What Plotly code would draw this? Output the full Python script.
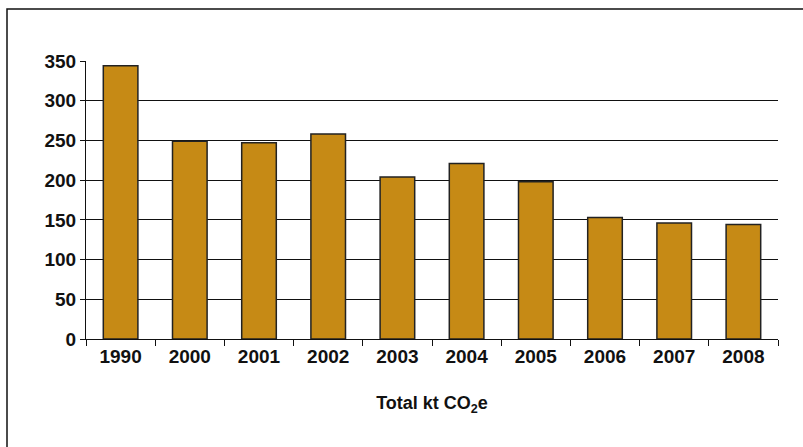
import plotly.graph_objects as go

years = ["1990", "2000", "2001", "2002", "2003", "2004", "2005", "2006", "2007", "2008"]
totals = [344, 249, 247, 258, 204, 221, 198, 153, 146, 144]
y_ticks = [0, 50, 100, 150, 200, 250, 300, 350]
x_title = "Total kt CO<sub>2</sub>e"

FONT = "Liberation Sans, Arial, sans-serif"
W, H = 803, 447
L, R, T, B = 86, 25, 61, 108

fig = go.Figure(go.Bar(
    x=years, y=totals,
    marker=dict(color="#C68A15", line=dict(color="#222222", width=1.5)),
    hoverinfo="x+y",
))

fig.update_layout(
    width=W, height=H,
    margin=dict(l=L, r=R, t=T, b=B, pad=0),
    paper_bgcolor="white", plot_bgcolor="white",
    bargap=0.5,
    showlegend=False,
    font=dict(family=FONT, size=19, color="#111111", weight="bold"),
    xaxis=dict(
        type="category",
        showline=True, linecolor="#111111", linewidth=1,
        ticks="outside", tickson="boundaries", ticklen=6, tickcolor="#111111", tickwidth=1,
        showgrid=False,
        tickfont=dict(family=FONT, size=19, color="#111111", weight="bold"),
        title=dict(text=x_title, standoff=30,
                   font=dict(family=FONT, size=18, color="#111111", weight="bold")),
    ),
    yaxis=dict(
        range=[0, 350],
        tickvals=y_ticks,
        showline=True, linecolor="#111111", linewidth=1,
        ticks="outside", ticklen=5, tickcolor="#111111", tickwidth=1,
        showgrid=True, gridcolor="#111111", gridwidth=1,
        zeroline=False,
        tickfont=dict(family=FONT, size=19, color="#111111", weight="bold"),
    ),
)

# outer frame (left and top edges visible in the reference)
pw, ph = W - L - R, H - T - B
fx0 = (7 - L) / pw
fy1 = (H - B - 9) / ph
fig.add_shape(type="rect", xref="paper", yref="paper",
              x0=fx0, x1=1.5, y0=-1.0, y1=fy1,
              line=dict(color="#111111", width=1.5), fillcolor="rgba(0,0,0,0)", layer="below")

fig.write_html("out.html")
